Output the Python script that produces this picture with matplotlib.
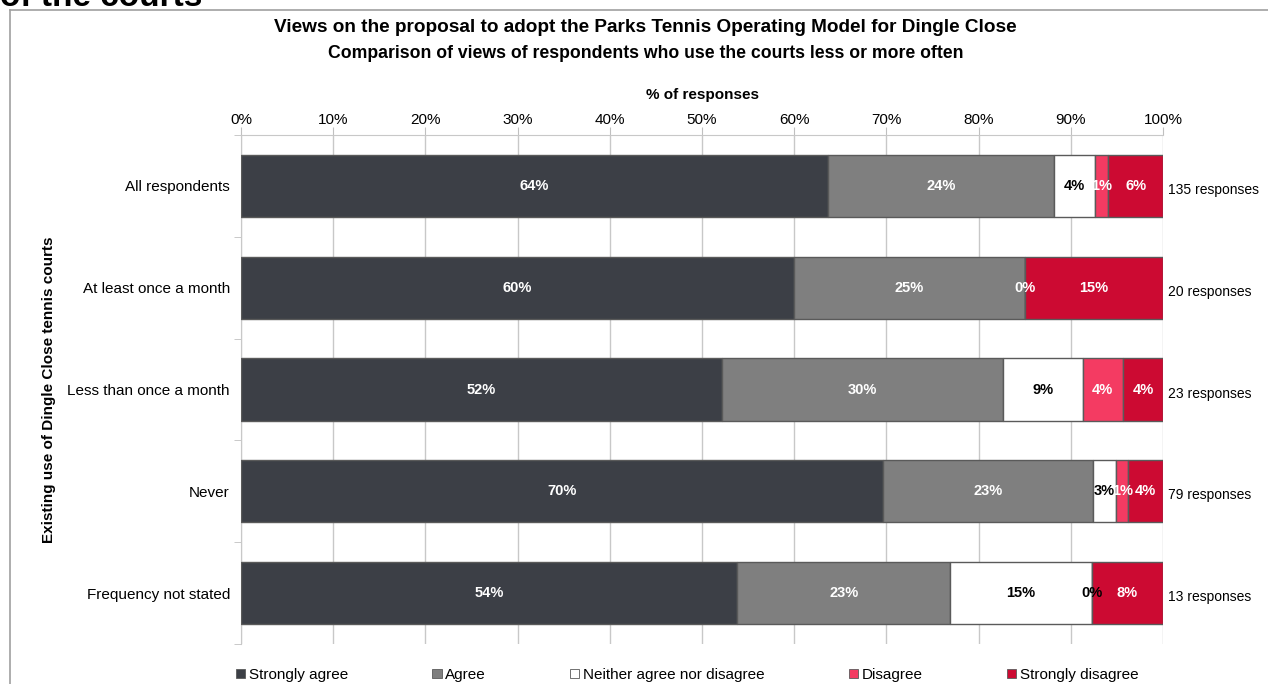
import numpy as np
import matplotlib.pyplot as plt
from matplotlib.patches import Patch
from matplotlib.lines import Line2D

plt.rcParams['font.family'] = ['Liberation Sans', 'DejaVu Sans']

# response counts per usage group
groups = ['All respondents', 'At least once a month', 'Less than once a month',
          'Never', 'Frequency not stated']
strongly_agree = [86, 12, 12, 55, 7]
agree = [33, 5, 7, 18, 3]
neither = [6, 0, 2, 2, 2]
disagree = [2, 0, 1, 1, 0]
strongly_disagree = [8, 3, 1, 3, 1]

series_names = ['Strongly agree', 'Agree', 'Neither agree nor disagree',
                'Disagree', 'Strongly disagree']
colors = ['#3c3f46', '#7f7f7f', '#ffffff', '#f43b62', '#cc0a32']
label_colors = ['white', 'white', 'black', 'white', 'white']

counts = np.array([strongly_agree, agree, neither, disagree, strongly_disagree], dtype=float)
totals = counts.sum(axis=0)
pct = counts / totals * 100

fig = plt.figure(figsize=(12.68, 6.84), dpi=100)
ax = fig.add_axes([241 / 1268, 1 - 644 / 684, 922 / 1268, 509 / 684])

y = np.arange(len(groups))
left = np.zeros(len(groups))
for i, name in enumerate(series_names):
    ax.barh(y, pct[i], left=left, height=0.61, color=colors[i],
            edgecolor='#5a5a5a', linewidth=1.0, label=name, zorder=3)
    for j in range(len(groups)):
        v = pct[i, j]
        if v == 0 and i != 3:
            continue
        c = label_colors[i]
        if v == 0:
            c = 'black' if pct[2, j] > 0 else 'white'
        ax.text(left[j] + v / 2, j, f'{v:.0f}%', ha='center', va='center',
                color=c, fontsize=10.5, fontweight='bold', zorder=4)
    left += pct[i]

# response totals to the right of each bar
for j, n in enumerate(totals):
    ax.text(100.5, j + 0.04, f'{int(n)} responses', ha='left', va='center', fontsize=10)

ax.set_xlim(0, 100)
ax.set_ylim(len(groups) - 0.5, -0.5)
ax.set_xticks(np.arange(0, 101, 10))
ax.set_xticklabels([f'{t}%' for t in range(0, 101, 10)], fontsize=11)
ax.xaxis.tick_top()
ax.xaxis.set_label_position('top')
ax.set_xlabel('% of responses', fontsize=11, fontweight='bold', labelpad=10)
ax.tick_params(axis='x', length=6, color='#c0c0c0', pad=0)

ax.set_yticks(y)
ax.set_yticklabels(groups, fontsize=11)
ax.set_yticks(np.arange(-0.5, len(groups)), minor=True)
ax.tick_params(axis='y', which='major', length=0, pad=8)
ax.tick_params(axis='y', which='minor', length=5, color='#c0c0c0')
ax.set_ylabel('Existing use of Dingle Close tennis courts', fontsize=11,
              fontweight='bold', labelpad=8)

ax.grid(axis='x', color='#c8c8c8', linewidth=1.0, zorder=0)
for side in ['right', 'bottom']:
    ax.spines[side].set_visible(False)
for side in ['top', 'left']:
    ax.spines[side].set_color('#c8c8c8')

fig.text(0.509, 1 - 27 / 684, 'Views on the proposal to adopt the Parks Tennis Operating Model for Dingle Close',
         ha='center', va='center', fontsize=13.7, fontweight='bold')
fig.text(0.509, 1 - 54 / 684, 'Comparison of views of respondents who use the courts less or more often',
         ha='center', va='center', fontsize=12.7, fontweight='bold')

# clipped heading above the chart frame
fig.text(0.0, 1 - 6 / 684, 'of the courts', ha='left', va='baseline',
         fontsize=24, fontweight='bold')

# chart frame
fig.add_artist(Line2D([10 / 1268, 1], [1 - 10 / 684, 1 - 10 / 684],
                      transform=fig.transFigure, color='#a0a0a0', linewidth=1.2))
fig.add_artist(Line2D([10 / 1268, 10 / 1268], [0, 1 - 10 / 684],
                      transform=fig.transFigure, color='#a0a0a0', linewidth=1.2))

handles = [Patch(facecolor=c, edgecolor='#5a5a5a', linewidth=0.6) for c in colors]
fig.legend(handles, series_names, loc='center', bbox_to_anchor=(0.542, 1 - 675 / 684),
           ncol=5, frameon=False, fontsize=11, handlelength=0.6, handleheight=0.6,
           handletextpad=0.25, columnspacing=5.5)

fig.savefig('out.png', dpi=100)
